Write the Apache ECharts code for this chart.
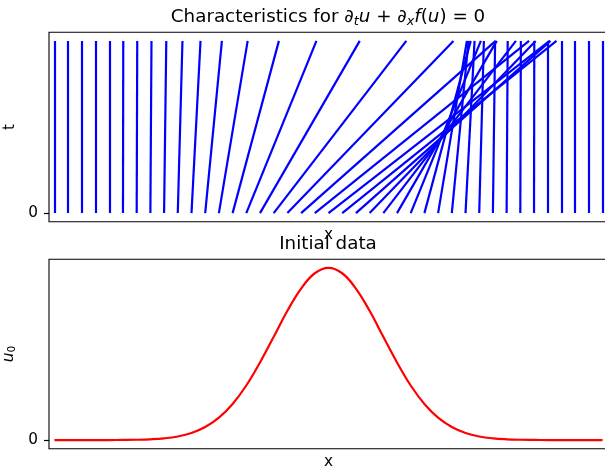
<!DOCTYPE html>
<html>
<head>
<meta charset="utf-8">
<script src="https://cdn.jsdelivr.net/npm/echarts@6/dist/echarts.min.js"></script>
<style>
  html, body { margin: 0; padding: 0; background: #fff; }
  #chart { width: 605px; height: 470px; }
</style>
</head>
<body>
<div id="chart"></div>
<script>
// starting points of the characteristics (t = 0)
const x0 = [
  -1.00, -0.95, -0.90, -0.85, -0.80, -0.75, -0.70, -0.65, -0.60, -0.55,
  -0.50, -0.45, -0.40, -0.35, -0.30, -0.25, -0.20, -0.15, -0.10, -0.05,
   0.00,  0.05,  0.10,  0.15,  0.20,  0.25,  0.30,  0.35,  0.40,  0.45,
   0.50,  0.55,  0.60,  0.65,  0.70,  0.75,  0.80,  0.85,  0.90,  0.95, 1.00
];
// where each characteristic ends at the top (t = tEnd)
const xEnd = [
  -1.000, -0.950, -0.900, -0.850, -0.800, -0.749, -0.698, -0.646, -0.592, -0.533,
  -0.467, -0.389, -0.295, -0.181, -0.044,  0.114,  0.284,  0.456,  0.610,  0.732,
   0.807,  0.832,  0.810,  0.756,  0.684,  0.614,  0.556,  0.519,  0.505,  0.511,
   0.533,  0.567,  0.608,  0.654,  0.702,  0.751,  0.800,  0.850,  0.900,  0.950, 1.000
];
const tStart = 0;
const tEnd = 1;
// initial data u0 sampled on x0
const u0 = [
  0.0000, 0.0000, 0.0000, 0.0001, 0.0003, 0.0008, 0.0019, 0.0046, 0.0101, 0.0211,
  0.0412, 0.0756, 0.130, 0.210, 0.317, 0.451, 0.600, 0.751, 0.880, 0.969,
  1.000, 0.969, 0.880, 0.751, 0.600, 0.451, 0.317, 0.210, 0.130, 0.0756,
  0.0412, 0.0211, 0.0101, 0.0046, 0.0019, 0.0008, 0.0003, 0.0001, 0.0000, 0.0000, 0.0000
];
const yTicks = [0];

const FONT = 'DejaVu Sans';
const TITLE_SIZE = 18.3;
const LABEL_SIZE = 15.3;
const chart = echarts.init(document.getElementById('chart'));

const mathRich = {
  n: { fontFamily: FONT, fontSize: TITLE_SIZE, fontWeight: 'normal', color: '#000', lineHeight: 22 },
  i: { fontFamily: FONT, fontSize: TITLE_SIZE, fontWeight: 'normal', fontStyle: 'italic', color: '#000', lineHeight: 22 },
  s: { fontFamily: FONT, fontSize: 12.8, fontWeight: 'normal', fontStyle: 'italic', color: '#000', lineHeight: 13, verticalAlign: 'bottom' }
};

const xAxisBase = {
  type: 'value', min: -1.02, max: 1.02,
  axisLine: { show: false, onZero: false }, axisTick: { show: false },
  axisLabel: { show: false }, splitLine: { show: false },
  name: 'x', nameLocation: 'middle', nameGap: 6,
  nameTextStyle: { fontFamily: FONT, fontSize: LABEL_SIZE, color: '#000', verticalAlign: 'top' }
};
const yAxisBase = {
  type: 'value', min: -0.05, max: 1.05,
  axisLine: { show: false, onZero: false }, splitLine: { show: false },
  axisTick: { show: true, customValues: yTicks, length: 5, lineStyle: { color: '#000', width: 1.2 } },
  axisLabel: { customValues: yTicks, margin: 11, fontFamily: FONT, fontSize: LABEL_SIZE, color: '#000' },
  nameLocation: 'middle', nameRotate: 90
};

chart.setOption({
  animation: false,
  title: [
    {
      text: '{n|Characteristics for }{i|∂}{s|t}{i|u}{n| + }{i|∂}{s|x}{i|f}{n|(}{i|u}{n|) = 0}',
      left: 328, top: 6, textAlign: 'center', padding: 0,
      textStyle: { fontWeight: 'normal', rich: mathRich }
    },
    {
      text: 'Initial data',
      left: 328, top: 233.5, textAlign: 'center', padding: 0,
      textStyle: { fontFamily: FONT, fontSize: TITLE_SIZE, fontWeight: 'normal', color: '#000', lineHeight: 22 }
    }
  ],
  grid: [
    { left: 49, top: 32.3, width: 559, height: 189.4, show: true, borderColor: '#000', borderWidth: 1.1,
      containLabel: false, outerBoundsMode: 'none' },
    { left: 49, top: 259.3, width: 559, height: 189.4, show: true, borderColor: '#000', borderWidth: 1.1,
      containLabel: false, outerBoundsMode: 'none' }
  ],
  xAxis: [
    Object.assign({ gridIndex: 0 }, xAxisBase),
    Object.assign({ gridIndex: 1 }, xAxisBase)
  ],
  yAxis: [
    Object.assign({ gridIndex: 0, name: 't', nameGap: 28,
      nameTextStyle: { fontFamily: FONT, fontSize: LABEL_SIZE, color: '#000' } }, yAxisBase),
    Object.assign({ gridIndex: 1, name: '{i|u}{s|0}', nameGap: 25,
      nameTextStyle: { rich: {
        i: { fontFamily: FONT, fontSize: LABEL_SIZE, fontStyle: 'italic', color: '#000', lineHeight: 17 },
        s: { fontFamily: FONT, fontSize: 10.7, color: '#000', lineHeight: 11, verticalAlign: 'bottom' }
      } } }, yAxisBase)
  ],
  series: [
    {
      type: 'lines',
      coordinateSystem: 'cartesian2d',
      xAxisIndex: 0, yAxisIndex: 0,
      polyline: false,
      lineStyle: { color: '#0000ff', width: 2.2, opacity: 1, curveness: 0 },
      data: x0.map((x, i) => ({ coords: [[x, tStart], [xEnd[i], tEnd]] }))
    },
    {
      type: 'line',
      xAxisIndex: 1, yAxisIndex: 1,
      data: x0.map((x, i) => [x, u0[i]]),
      smooth: 0.4,
      showSymbol: false,
      lineStyle: { color: '#ff0000', width: 2.2 }
    }
  ]
});
</script>
</body>
</html>
